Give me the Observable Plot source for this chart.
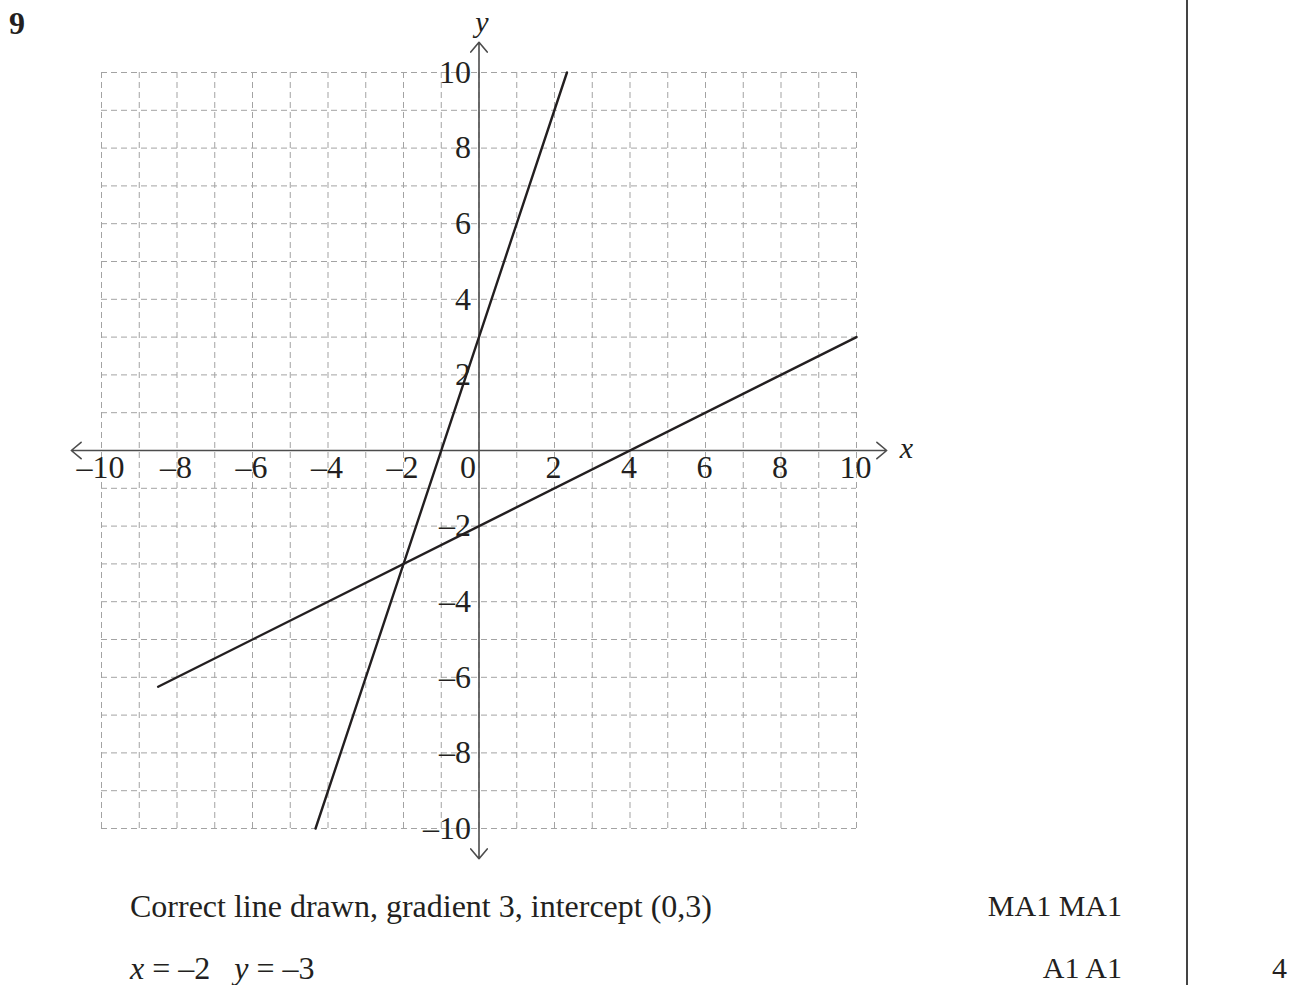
<!DOCTYPE html>
<html>
<head>
<meta charset="utf-8">
<script src="https://cdn.jsdelivr.net/npm/d3@7"></script>
<script src="https://cdn.jsdelivr.net/npm/@observablehq/plot@0.6"></script>
<style>
  html, body { margin: 0; padding: 0; background: #fff; }
  #page { position: relative; width: 1299px; height: 985px; overflow: hidden; font-family: "Liberation Serif", "DejaVu Serif", serif; color: #231f20; }
  #chart { position: absolute; left: 0; top: 0; }
  .abs { position: absolute; white-space: nowrap; font-size: 30px; line-height: 1; }
  #qnum { left: 9px; top: 7px; font-weight: bold; font-size: 32px; }
  #rule { position: absolute; left: 1186px; top: 0; width: 1.5px; height: 985px; background: #444; }
</style>
</head>
<body>
<div id="page">
  <div id="chart"></div>
  <div id="qnum" class="abs">9</div>
  <div id="cap1" class="abs" style="left:130px; top:890px; font-size:32px;">Correct line drawn, gradient 3, intercept (0,3)</div>
  <div id="cap2" class="abs" style="left:130px; top:952px; font-size:32px;"><i>x</i> = –2 &nbsp; <i>y</i> = –3</div>
  <div id="mark1" class="abs" style="right:177px; top:891px;">MA1 MA1</div>
  <div id="mark2" class="abs" style="right:177px; top:953px;">A1 A1</div>
  <div id="total" class="abs" style="left:1272px; top:953px;">4</div>
  <div id="rule"></div>
</div>
<script>
// ---- data ----
const gridValues = d3.range(-10, 11);            // grid lines at every unit
const xTickLabelValues = [-10, -8, -6, -4, -2, 2, 4, 6, 8, 10];
const originLabel = [0];
const yTickLabelValues = [-10, -8, -6, -4, -2, 2, 4, 6, 8, 10];
const axisExtent = 10.8;                          // arrow tips of the axes
// Line 1: y = 3x + 3 (drawn from y = -10 to y = 10)
const line1X = [-4.33, 2.33];
const line1Y = [-10, 10];
// Line 2: y = 0.5x - 2 (drawn from x = -8.5 to x = 10)
const line2X = [-8.5, 10];
const line2Y = [-6.25, 3];

const fmt = d => d < 0 ? "–" + Math.abs(d) : String(d);
const line1 = line1X.map((x, i) => ({x, y: line1Y[i]}));
const line2 = line2X.map((x, i) => ({x, y: line2Y[i]}));
const arrows = [
  {x1: 0, y1: 0, x2: axisExtent, y2: 0},
  {x1: 0, y1: 0, x2: -axisExtent, y2: 0},
  {x1: 0, y1: 0, x2: 0, y2: axisExtent},
  {x1: 0, y1: 0, x2: 0, y2: -axisExtent}
];

const font = "Liberation Serif";
const ink = "#231f20";
const chart = Plot.plot({
  width: 1299,
  height: 985,
  marginLeft: 101,
  marginRight: 443,
  marginTop: 72,
  marginBottom: 157,
  x: {domain: [-10, 10], axis: null},
  y: {domain: [-10, 10], axis: null},
  style: {background: "#fff", fontFamily: font},
  marks: [
    Plot.ruleX(gridValues, {x: d => d, y1: -10, y2: 10, stroke: "#a3a3a3", strokeWidth: 1, strokeDasharray: "6,4"}),
    Plot.ruleY(gridValues, {y: d => d, x1: -10, x2: 10, stroke: "#a3a3a3", strokeWidth: 1, strokeDasharray: "6,4"}),
    Plot.arrow(arrows, {x1: "x1", y1: "y1", x2: "x2", y2: "y2", stroke: "#4d4d4d", strokeWidth: 1.6, headLength: 12, headAngle: 80}),
    Plot.line(line1, {x: "x", y: "y", stroke: ink, strokeWidth: 2.4}),
    Plot.line(line2, {x: "x", y: "y", stroke: ink, strokeWidth: 2.4}),
    Plot.text(xTickLabelValues, {x: d => d, y: 0, text: fmt, dy: 17, dx: -1, fontSize: 32, fill: ink, fontFamily: font}),
    Plot.text(originLabel, {x: d => d, y: 0, text: fmt, dy: 17, dx: -11, fontSize: 32, fill: ink, fontFamily: font}),
    Plot.text(yTickLabelValues, {x: 0, y: d => d, text: fmt, textAnchor: "end", dx: -8, fontSize: 32, fill: ink, fontFamily: font}),
    Plot.text(["x"], {x: axisExtent, y: 0, text: d => d, dx: 13, dy: -2, textAnchor: "start", fontSize: 30, fontStyle: "italic", fill: ink, fontFamily: font}),
    Plot.text(["y"], {x: 0, y: axisExtent, text: d => d, dy: -20, dx: 3, fontSize: 30, fontStyle: "italic", fill: ink, fontFamily: font})
  ]
});
document.getElementById("chart").appendChild(chart);
</script>
</body>
</html>
